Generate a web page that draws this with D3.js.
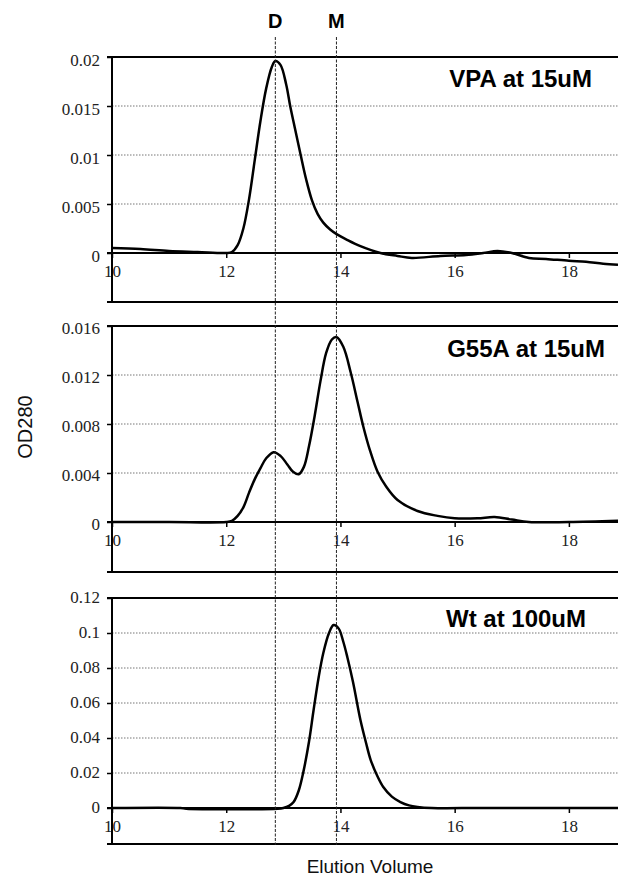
<!DOCTYPE html>
<html><head><meta charset="utf-8">
<script src="https://cdn.jsdelivr.net/npm/d3@7"></script>
<style>body{margin:0;background:#fff}svg{display:block}</style>
</head><body><div id="chart"></div>
<script>
// ---------------- DATA ----------------
const panelNames = ["VPA at 15uM", "G55A at 15uM", "Wt at 100uM"];
const xTicks = [10, 12, 14, 16, 18];
const xTickLabels = ["10", "12", "14", "16", "18"];
const markerNames = ["D", "M"];
const markerX = [12.86, 13.93];

const vpaX = [10.0,10.5,11.0,11.5,12.0,12.1,12.2,12.3,12.4,12.5,12.6,12.7,12.8,12.86,12.95,13.05,13.12,13.2,13.3,13.4,13.5,13.6,13.7,13.82,13.94,14.1,14.35,14.7,15.0,15.25,15.75,16.2,16.5,16.75,17.0,17.3,17.6,18.0,18.3,18.6,18.86];
const vpaY = [0.0005,0.0004,0.0002,0.0001,0.0,0.0001,0.0008,0.0025,0.0055,0.0095,0.0135,0.0168,0.019,0.0196,0.0192,0.0172,0.015,0.0128,0.0101,0.0075,0.0054,0.004,0.0031,0.0024,0.0019,0.0014,0.0007,0.0,-0.0003,-0.0005,-0.0003,-0.0002,0.0,0.0002,0.0,-0.0005,-0.0006,-0.0008,-0.0009,-0.0011,-0.0012];

const g55aX = [10.0,11.0,12.0,12.1,12.2,12.3,12.4,12.5,12.6,12.7,12.83,12.95,13.07,13.17,13.27,13.36,13.45,13.55,13.65,13.75,13.85,13.93,14.05,14.18,14.3,14.4,14.52,14.65,14.8,15.0,15.35,15.7,16.0,16.4,16.7,17.0,17.3,18.0,18.86];
const g55aY = [0.0,0.0,0.0,0.0001,0.0005,0.0012,0.0024,0.0035,0.0044,0.0052,0.0057,0.0054,0.0047,0.0041,0.0039,0.0045,0.0062,0.0087,0.0115,0.0138,0.0149,0.0151,0.0143,0.0122,0.0098,0.0078,0.0058,0.0041,0.0029,0.0018,0.0009,0.0005,0.0003,0.0003,0.0004,0.0002,0.0,0.0,0.0001];

const wtX = [10.0,11.2,11.3,12.9,13.0,13.1,13.18,13.27,13.35,13.45,13.53,13.62,13.7,13.8,13.88,13.97,14.05,14.12,14.22,14.35,14.45,14.53,14.65,14.75,14.9,15.05,15.2,15.35,15.6,16.5,18.86];
const wtY = [0,0,-0.0004,-0.0004,0,0.0012,0.0034,0.01,0.0205,0.038,0.056,0.075,0.0886,0.1,0.1046,0.1025,0.095,0.0863,0.072,0.0503,0.037,0.0274,0.018,0.012,0.0065,0.0034,0.0015,0.0006,0.0,0,0];

const yTicksVpa = [0, 0.005, 0.01, 0.015, 0.02];
const yLabelsVpa = ["0", "0.005", "0.01", "0.015", "0.02"];
const yTicksG55a = [0, 0.004, 0.008, 0.012, 0.016];
const yLabelsG55a = ["0", "0.004", "0.008", "0.012", "0.016"];
const yTicksWt = [0, 0.02, 0.04, 0.06, 0.08, 0.1, 0.12];
const yLabelsWt = ["0", "0.02", "0.04", "0.06", "0.08", "0.1", "0.12"];

const xTitle = "Elution Volume";
const yTitle = "OD280";

// ---------------- LAYOUT ----------------
const W = 618, H = 880;
const left = 112, right = 618;
const panels = [
  {xs: vpaX, ys: vpaY, ticks: yTicksVpa, labels: yLabelsVpa, top: 57, zero: 253, bottom: 302, title: panelNames[0], tx: 592, ty: 87, ldy: 5},
  {xs: g55aX, ys: g55aY, ticks: yTicksG55a, labels: yLabelsG55a, top: 326, zero: 522, bottom: 572, title: panelNames[1], tx: 605, ty: 357, ldy: 4},
  {xs: wtX, ys: wtY, ticks: yTicksWt, labels: yLabelsWt, top: 598, zero: 808, bottom: 844, title: panelNames[2], tx: 586, ty: 627, ldy: 1}
];

const svg = d3.select("#chart").append("svg").attr("width", W).attr("height", H)
  .style("background", "#fff");

const x = d3.scaleLinear().domain([10, 18.86]).range([left, right]);

panels.forEach(p => {
  const maxT = p.ticks[p.ticks.length - 1];
  const y = d3.scaleLinear().domain([0, maxT]).range([p.zero, p.top]);
  const g = svg.append("g");

  // gridlines (dotted)
  g.append("g").selectAll("line").data(p.ticks.filter(t => t > 0 && t < maxT)).join("line")
    .attr("x1", left).attr("x2", right)
    .attr("y1", d => y(d)).attr("y2", d => y(d))
    .attr("stroke", "#777").attr("stroke-width", 1).attr("stroke-dasharray", "1.5,1.5");

  // curve
  const pts = p.xs.map((v, i) => [v, p.ys[i]]);
  g.append("path").datum(pts)
    .attr("fill", "none").attr("stroke", "#000").attr("stroke-width", 2.5)
    .attr("stroke-linejoin", "round")
    .attr("d", d3.line().x(d => x(d[0])).y(d => y(d[1])).curve(d3.curveCatmullRom.alpha(0.5)));

  // y axis
  const ya = d3.axisLeft(y).tickValues(p.ticks).tickFormat((d, i) => p.labels[i]).tickSize(5).tickPadding(7);
  const yg = g.append("g").attr("transform", `translate(${left},0)`).call(ya);
  yg.select(".domain").remove();
  yg.selectAll(".tick line").attr("stroke", "#000").attr("stroke-width", 1.5);
  yg.selectAll(".tick text").attr("font-family", "'Liberation Serif', 'Times New Roman', serif")
    .attr("font-size", 17).attr("fill", "#222").attr("dy", null)
    .attr("y", p.ldy).attr("dominant-baseline", "middle");

  // x axis along zero line
  const xa = d3.axisBottom(x).tickValues(xTicks).tickFormat((d, i) => xTickLabels[i]).tickSize(5).tickPadding(7);
  const xg = g.append("g").attr("transform", `translate(0,${p.zero})`).call(xa);
  xg.select(".domain").remove();
  xg.selectAll(".tick line").attr("stroke", "#000").attr("stroke-width", 1.5);
  xg.selectAll(".tick text").attr("font-family", "'Liberation Serif', 'Times New Roman', serif")
    .attr("font-size", 17).attr("fill", "#222");

  // frame lines: top, zero, bottom, left
  [p.top, p.zero, p.bottom].forEach(yy => {
    g.append("line").attr("x1", left - 5).attr("x2", right).attr("y1", yy).attr("y2", yy)
      .attr("stroke", "#000").attr("stroke-width", 2);
  });
  g.append("line").attr("x1", left).attr("x2", left).attr("y1", p.top).attr("y2", p.bottom)
    .attr("stroke", "#000").attr("stroke-width", 2);

  // panel title
  g.append("text").attr("x", p.tx).attr("y", p.ty).attr("text-anchor", "end")
    .attr("font-family", "'Liberation Sans', Arial, sans-serif").attr("font-weight", "bold")
    .attr("font-size", 24).attr("fill", "#000").text(p.title);
});

// marker lines D and M
markerNames.forEach((m, i) => {
  svg.append("line").attr("x1", x(markerX[i])).attr("x2", x(markerX[i]))
    .attr("y1", 37).attr("y2", 845)
    .attr("stroke", "#222").attr("stroke-width", 1).attr("stroke-dasharray", "3,1.5");
  svg.append("text").attr("x", x(markerX[i])).attr("y", 28).attr("text-anchor", "middle")
    .attr("font-family", "'Liberation Sans', Arial, sans-serif").attr("font-weight", "bold")
    .attr("font-size", 20).attr("fill", "#000").text(m);
});

// axis titles
svg.append("text").attr("x", 370).attr("y", 873).attr("text-anchor", "middle")
  .attr("font-family", "'Liberation Sans', Arial, sans-serif").attr("font-size", 19).attr("fill", "#111")
  .text(xTitle);
svg.append("text").attr("transform", "translate(32,427) rotate(-90)").attr("text-anchor", "middle")
  .attr("font-family", "'Liberation Sans', Arial, sans-serif").attr("font-size", 20).attr("fill", "#111")
  .text(yTitle);
</script>
</body></html>
